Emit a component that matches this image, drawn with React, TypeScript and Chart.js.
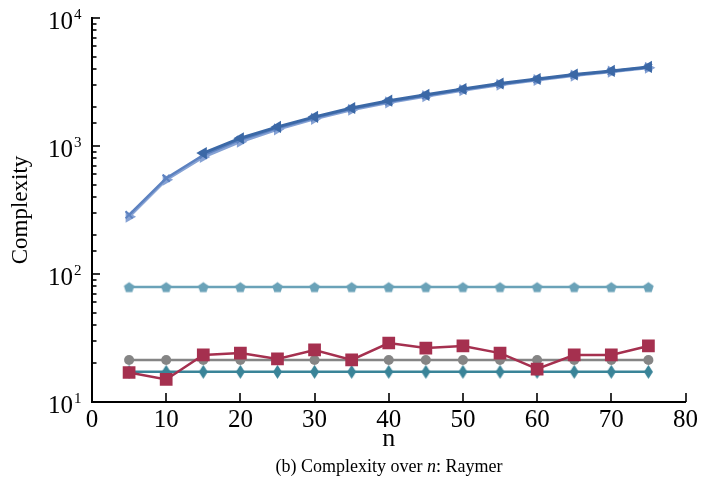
import React, { useEffect, useRef } from 'react';
import { Chart, registerables } from 'chart.js';

Chart.register(...registerables);

// ---------- data ----------
const nValues = [5, 10, 15, 20, 25, 30, 35, 40, 45, 50, 55, 60, 65, 70, 75];
const darkBlueVals = [null, null, 880, 1150, 1410, 1690, 1980, 2260, 2510, 2790, 3080, 3340, 3620, 3860, 4150];
const midBlueVals = [290, 560, 850, 1120, 1380, 1660, 1950, 2220, 2480, 2760, 3040, 3310, 3580, 3830, 4120];
const lightBlueVals = [280, 545, 820, 1080, 1350, 1630, 1920, 2190, 2450, 2730, 3010, 3280, 3550, 3810, 4090];
const pentagonVals = [79, 79, 79, 79, 79, 79, 79, 79, 79, 79, 79, 79, 79, 79, 79];
const grayVals = [21.3, 21.3, 21.3, 21.3, 21.3, 21.3, 21.3, 21.3, 21.3, 21.3, 21.3, 21.3, 21.3, 21.3, 21.3];
const diamondVals = [17.2, 17.2, 17.2, 17.2, 17.2, 17.2, 17.2, 17.2, 17.2, 17.2, 17.2, 17.2, 17.2, 17.2, 17.2];
const redVals = [17, 15, 23.3, 24.1, 21.7, 25.5, 21.3, 28.9, 26.4, 27.4, 24.1, 18.1, 23.3, 23.3, 27.4];
const yTickExponents = [1, 2, 3, 4];
const xLabel = 'n';
const yLabel = 'Complexity';
const captionParts = ['(b) Complexity over ', 'n', ': Raymer'];

const SERIF = '"Liberation Serif", "Times New Roman", serif';

function toPoints(vals: (number | null)[]) {
  return nValues
    .map((n, i) => ({ x: n, y: vals[i] }))
    .filter((p) => p.y !== null) as { x: number; y: number }[];
}

function makePentagon(color: string, r: number) {
  const c = document.createElement('canvas');
  const s = Math.ceil(r * 2 + 2);
  c.width = s;
  c.height = s;
  const g = c.getContext('2d')!;
  g.fillStyle = color;
  g.beginPath();
  for (let k = 0; k < 5; k++) {
    const a = -Math.PI / 2 + (k * 2 * Math.PI) / 5;
    const px = s / 2 + r * Math.cos(a);
    const py = s / 2 + 0.5 + r * Math.sin(a);
    if (k === 0) g.moveTo(px, py);
    else g.lineTo(px, py);
  }
  g.closePath();
  g.fill();
  return c;
}

function makeThinDiamond(color: string, hw: number, hh: number) {
  const c = document.createElement('canvas');
  const w = Math.ceil(hw * 2 + 2);
  const h = Math.ceil(hh * 2 + 2);
  c.width = w;
  c.height = h;
  const g = c.getContext('2d')!;
  g.fillStyle = color;
  g.beginPath();
  g.moveTo(w / 2, h / 2 - hh);
  g.lineTo(w / 2 + hw, h / 2);
  g.lineTo(w / 2, h / 2 + hh);
  g.lineTo(w / 2 - hw, h / 2);
  g.closePath();
  g.fill();
  return c;
}

const axisDecor = {
  id: 'axisDecor',
  afterDraw(chart: any) {
    const ctx = chart.ctx as CanvasRenderingContext2D;
    const { left, bottom, right } = chart.chartArea;
    const xs = chart.scales.x;
    const ys = chart.scales.y;
    ctx.save();
    ctx.strokeStyle = '#000';
    ctx.lineWidth = 1.6;
    // x ticks (inward)
    xs.ticks.forEach((t: any) => {
      const px = Math.round(xs.getPixelForValue(t.value));
      ctx.beginPath();
      ctx.moveTo(px, bottom);
      ctx.lineTo(px, bottom - 9);
      ctx.stroke();
    });
    // y ticks (inward)
    ys.ticks.forEach((t: any) => {
      const v = t.value;
      const lg = Math.log10(v);
      const major = Math.abs(lg - Math.round(lg)) < 1e-6;
      const py = Math.round(ys.getPixelForValue(v));
      ctx.beginPath();
      ctx.moveTo(left, py);
      ctx.lineTo(left + (major ? 8 : 4.5), py);
      ctx.stroke();
    });
    // y tick labels 10^e
    ctx.fillStyle = '#000';
    yTickExponents.forEach((e) => {
      const py = ys.getPixelForValue(Math.pow(10, e));
      ctx.font = `25px ${SERIF}`;
      ctx.textAlign = 'right';
      ctx.textBaseline = 'alphabetic';
      ctx.fillText('10', 73, py + 11);
      ctx.font = `15px ${SERIF}`;
      ctx.textAlign = 'left';
      ctx.fillText(String(e), 74, py + 0.5);
    });
    // y axis title
    ctx.save();
    ctx.translate(27, 210);
    ctx.rotate(-Math.PI / 2);
    ctx.font = `23px ${SERIF}`;
    ctx.textAlign = 'center';
    ctx.textBaseline = 'alphabetic';
    ctx.fillText(yLabel, 0, 0);
    ctx.restore();
    // x axis title
    ctx.font = `26px ${SERIF}`;
    ctx.textAlign = 'center';
    ctx.textBaseline = 'alphabetic';
    ctx.fillText(xLabel, (left + right) / 2, 446);
    // caption
    const fN = `18px ${SERIF}`;
    const fI = `italic 18px ${SERIF}`;
    ctx.font = fN;
    const w0 = ctx.measureText(captionParts[0]).width;
    const w2 = ctx.measureText(captionParts[2]).width;
    ctx.font = fI;
    const w1 = ctx.measureText(captionParts[1]).width;
    const total = w0 + w1 + w2;
    let cx = 389 - total / 2;
    ctx.textAlign = 'left';
    ctx.font = fN;
    ctx.fillText(captionParts[0], cx, 472);
    cx += w0;
    ctx.font = fI;
    ctx.fillText(captionParts[1], cx, 472);
    cx += w1;
    ctx.font = fN;
    ctx.fillText(captionParts[2], cx, 472);
    ctx.restore();
  },
};

export default function App() {
  const ref = useRef<HTMLCanvasElement | null>(null);
  useEffect(() => {
    if (!ref.current) return;
    const pent = makePentagon('#6aa2b8', 5.5);
    const dia = makeThinDiamond('#3a8498', 4.5, 7);
    const chart = new Chart(ref.current, {
      type: 'line',
      data: {
        datasets: [
          {
            data: toPoints(redVals),
            borderColor: '#a5304f',
            backgroundColor: '#a5304f',
            borderWidth: 2.5,
            pointStyle: 'rect',
            pointRadius: 9,
            pointBorderWidth: 0,
          },
          {
            data: toPoints(grayVals),
            borderColor: '#858585',
            backgroundColor: '#858585',
            borderWidth: 2.5,
            pointStyle: 'circle',
            pointRadius: 5,
            pointBorderWidth: 0,
          },
          {
            data: toPoints(diamondVals),
            borderColor: '#3a8498',
            backgroundColor: '#3a8498',
            borderWidth: 2.5,
            pointStyle: dia as any,
          },
          {
            data: toPoints(pentagonVals),
            borderColor: '#6aa2b8',
            backgroundColor: '#6aa2b8',
            borderWidth: 2.5,
            pointStyle: pent as any,
          },
          {
            data: toPoints(darkBlueVals),
            borderColor: '#3b68a6',
            backgroundColor: '#3b68a6',
            borderWidth: 3,
            pointStyle: 'triangle',
            pointRotation: -90,
            pointRadius: 7,
            pointBorderWidth: 0,
          },
          {
            data: toPoints(midBlueVals),
            borderColor: '#5d82c0',
            backgroundColor: '#5d82c0',
            borderWidth: 2.5,
            pointStyle: 'crossRot',
            pointRadius: 5,
            pointBorderWidth: 2,
          },
          {
            data: toPoints(lightBlueVals),
            borderColor: '#86a2d4',
            backgroundColor: '#86a2d4',
            borderWidth: 3,
            pointStyle: 'triangle',
            pointRotation: 90,
            pointRadius: 7,
            pointBorderWidth: 0,
          },
        ],
      },
      options: {
        responsive: false,
        animation: false,
        events: [],
        layout: { padding: { left: 0, right: 15, top: 18, bottom: 0 } },
        plugins: { legend: { display: false }, tooltip: { enabled: false } },
        elements: { line: { tension: 0 } },
        scales: {
          x: {
            type: 'linear',
            min: 0,
            max: 80,
            grid: { display: false, drawTicks: false },
            border: { display: true, color: '#000', width: 2 },
            ticks: {
              stepSize: 10,
              autoSkip: false,
              maxRotation: 0,
              padding: 3,
              color: '#000',
              font: { family: SERIF, size: 25 },
            },
            afterFit: (s: any) => {
              s.height = 83;
            },
          },
          y: {
            type: 'logarithmic',
            min: 10,
            max: 10000,
            grid: { display: false, drawTicks: false },
            border: { display: true, color: '#000', width: 2 },
            ticks: { display: false, autoSkip: false },
            afterFit: (s: any) => {
              s.width = 92;
            },
          },
        },
      },
      plugins: [axisDecor],
    });
    return () => chart.destroy();
  }, []);
  return (
    <div style={{ position: 'fixed', left: 0, top: 0, width: 701, height: 485, background: '#fff' }}>
      <canvas ref={ref} width={701} height={485} style={{ display: 'block' }} />
    </div>
  );
}
